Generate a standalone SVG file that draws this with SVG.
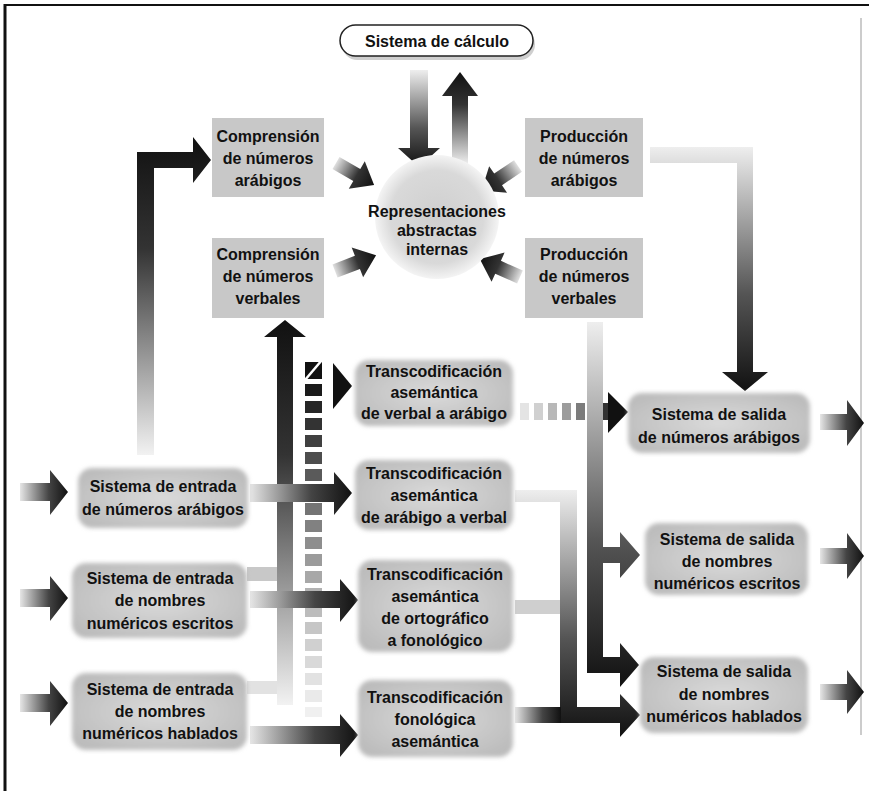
<svg xmlns="http://www.w3.org/2000/svg" width="869" height="791" viewBox="0 0 869 791">
<defs>
<style>
text{font-family:"Liberation Sans",Arial,sans-serif;font-weight:bold;font-size:16px;fill:#111;text-anchor:middle;dominant-baseline:central}
.rb{fill:url(#boxG);filter:url(#soft)}
.sq{fill:#c6c6c6}
</style>
<filter id="soft" x="-10%" y="-20%" width="120%" height="140%"><feGaussianBlur stdDeviation="2.2"/></filter>
<radialGradient id="boxG" cx="0.5" cy="0.5" r="0.6"><stop offset="0" stop-color="#dadada"/><stop offset="1" stop-color="#bcbcbc"/></radialGradient>
<radialGradient id="circG" cx="0.5" cy="0.5" r="0.5"><stop offset="0" stop-color="#cfcfcf"/><stop offset="0.75" stop-color="#d9d9d9"/><stop offset="1" stop-color="#f4f4f4"/></radialGradient>
<linearGradient id="gH" x1="0" y1="0" x2="1" y2="0"><stop offset="0" stop-color="#e6e6e6"/><stop offset="0.6" stop-color="#444"/><stop offset="1" stop-color="#111"/></linearGradient>
<linearGradient id="gUp" x1="0" y1="0" x2="0" y2="1"><stop offset="0" stop-color="#111"/><stop offset="0.35" stop-color="#333"/><stop offset="1" stop-color="#f2f2f2"/></linearGradient>
<linearGradient id="gDown" x1="0" y1="0" x2="0" y2="1"><stop offset="0" stop-color="#eeeeee"/><stop offset="0.6" stop-color="#555"/><stop offset="1" stop-color="#111"/></linearGradient>
<linearGradient id="gSmall" x1="0" y1="0" x2="1" y2="0"><stop offset="0" stop-color="#e0e0e0"/><stop offset="0.55" stop-color="#333"/><stop offset="1" stop-color="#111"/></linearGradient>
<path id="sm" d="M0,-7 H24 V-16 L44,0 L24,16 V7 H0 Z"/>
</defs>
<rect width="869" height="791" fill="#fff"/>
<g id="frame">
<line x1="4" y1="5" x2="869" y2="5" stroke="#111" stroke-width="2"/>
<line x1="5" y1="4" x2="5" y2="791" stroke="#111" stroke-width="3"/>
<line x1="861" y1="18" x2="861" y2="735" stroke="#999" stroke-width="1"/>
</g>
<g id="connectors">
<path d="M410,70 H428 V148 H440 L419,167 L398,148 H410 Z" fill="url(#gDown)"/>
<path d="M452,165 V96 H442 L460,72 L478,96 H468 V165 Z" fill="url(#gUp)"/>
<path d="M137,455 V152 H193 V137 L211,160 L193,183 V168 H154 V455 Z" fill="url(#gUp)"/>
<path d="M277,705 V337 H264 L285,320 L306,337 H293 V705 Z" fill="url(#gUp)"/>
<rect x="247" y="567" width="30" height="14" fill="#c8c8c8"/>
<rect x="247" y="681" width="30" height="13" fill="#e2e2e2"/>
<g id="dashcol">
<path d="M305,362 H322 V379 H305 Z" fill="#111"/>
<line x1="322" y1="360" x2="305" y2="380" stroke="#fff" stroke-width="2.5"/>
<rect x="305" y="384" width="17" height="12" fill="#1a1a1a"/>
<rect x="305" y="401" width="17" height="12" fill="#262626"/>
<rect x="305" y="418" width="17" height="12" fill="#333"/>
<rect x="305" y="435" width="17" height="12" fill="#404040"/>
<rect x="305" y="452" width="17" height="12" fill="#4d4d4d"/>
<rect x="305" y="469" width="17" height="12" fill="#5a5a5a"/>
<rect x="305" y="486" width="17" height="12" fill="#676767"/>
<rect x="305" y="503" width="17" height="12" fill="#747474"/>
<rect x="305" y="520" width="17" height="12" fill="#818181"/>
<rect x="305" y="537" width="17" height="12" fill="#8e8e8e"/>
<rect x="305" y="554" width="17" height="12" fill="#9b9b9b"/>
<rect x="305" y="571" width="17" height="12" fill="#a8a8a8"/>
<rect x="305" y="588" width="17" height="12" fill="#b2b2b2"/>
<rect x="305" y="605" width="17" height="12" fill="#bcbcbc"/>
<rect x="305" y="622" width="17" height="12" fill="#c6c6c6"/>
<rect x="305" y="639" width="17" height="12" fill="#d0d0d0"/>
<rect x="305" y="656" width="17" height="12" fill="#d9d9d9"/>
<rect x="305" y="673" width="17" height="12" fill="#e2e2e2"/>
<rect x="305" y="690" width="17" height="12" fill="#eaeaea"/>
<rect x="305" y="707" width="17" height="10" fill="#f0f0f0"/>
<path d="M333,363 L352,386 L333,409 Z" fill="#111"/>
</g>
<path d="M250,484 H334 V472 L352,493 L334,515 V502 H250 Z" fill="url(#gH)"/>
<path d="M250,591 H340 V579 L358,600 L340,622 V608 H250 Z" fill="url(#gH)"/>
<path d="M250,726 H340 V714 L358,735 L340,757 V744 H250 Z" fill="url(#gH)"/>
<path d="M20,483 H50 V470 L68,492 L50,515 V501 H20 Z" fill="url(#gH)"/>
<path d="M20,589 H50 V576 L68,598 L50,621 V607 H20 Z" fill="url(#gH)"/>
<path d="M20,694 H50 V681 L68,703 L50,726 V712 H20 Z" fill="url(#gH)"/>
<g id="dashrow">
<rect x="520" y="403" width="9" height="17" fill="#e4e4e4"/>
<rect x="534" y="403" width="9" height="17" fill="#d0d0d0"/>
<rect x="548" y="403" width="9" height="17" fill="#b8b8b8"/>
<rect x="562" y="403" width="9" height="17" fill="#9c9c9c"/>
<rect x="576" y="403" width="9" height="17" fill="#7c7c7c"/>
<rect x="590" y="403" width="9" height="17" fill="#5a5a5a"/>
<rect x="603" y="403" width="7" height="17" fill="#333"/>
<path d="M608,392 L628,412 L608,433 Z" fill="#111"/>
</g>
<path d="M650,147 H753 V372 H768 L745,391 L722,372 H737 V163 H650 Z" fill="url(#gDown)"/>
<path d="M587,322 H603 V547 H620 V532 L640,555 L620,578 V563 H603 V657 H620 V643 L639,665 L620,687 V673 H587 Z" fill="url(#gDown)"/>
<path d="M515,490 H577 V707 H620 V694 L640,715 L620,737 V723 H560 V502 H515 Z" fill="url(#gDown)"/>
<rect x="515" y="707" width="46" height="16" fill="url(#gH)"/>
<rect x="515" y="600" width="45" height="14" fill="#cfcfcf"/>
<path d="M820,414 H847 V400 L864,423 L847,446 V430 H820 Z" fill="url(#gH)"/>
<path d="M820,548 H847 V533 L864,556 L847,579 V564 H820 Z" fill="url(#gH)"/>
<path d="M820,684 H847 V670 L864,692 L847,714 V700 H820 Z" fill="url(#gH)"/>
<use href="#sm" fill="url(#gSmall)" transform="translate(336,163) rotate(30)"/>
<use href="#sm" fill="url(#gSmall)" transform="translate(335,271) rotate(-21)"/>
<use href="#sm" fill="url(#gSmall)" transform="translate(518,166) rotate(146)"/>
<use href="#sm" fill="url(#gSmall)" transform="translate(520,277) rotate(-156)"/>
</g>
<g id="calculo">
<rect x="342" y="29" width="193" height="31" rx="15.5" fill="#cfcfcf"/>
<rect x="340" y="25" width="193" height="31" rx="15.5" fill="#fff" stroke="#222" stroke-width="1.5"/>
<text x="437" y="41">Sistema de cálculo</text>
</g>
<g id="representaciones">
<circle cx="437" cy="217" r="62" fill="url(#circG)"/>
<text x="437" y="211">Representaciones</text>
<text x="437" y="230">abstractas</text>
<text x="437" y="249">internas</text>
</g>
<g id="comp-arabigos">
<rect x="212" y="118" width="112" height="79" fill="#c8c8c8"/>
<text x="268" y="136">Comprensión</text>
<text x="268" y="158">de números</text>
<text x="268" y="180">arábigos</text>
</g>
<g id="comp-verbales">
<rect x="212" y="238" width="112" height="80" fill="#c8c8c8"/>
<text x="268" y="254">Comprensión</text>
<text x="268" y="276">de números</text>
<text x="268" y="298">verbales</text>
</g>
<g id="prod-arabigos">
<rect x="525" y="118" width="118" height="79" fill="#c8c8c8"/>
<text x="584" y="136">Producción</text>
<text x="584" y="158">de números</text>
<text x="584" y="180">arábigos</text>
</g>
<g id="prod-verbales">
<rect x="525" y="238" width="118" height="80" fill="#c8c8c8"/>
<text x="584" y="254">Producción</text>
<text x="584" y="276">de números</text>
<text x="584" y="298">verbales</text>
</g>
<g id="ent-arabigos">
<rect class="rb" x="78" y="468" width="170" height="60" rx="14"/>
<text x="163" y="486">Sistema de entrada</text>
<text x="163" y="509">de números arábigos</text>
</g>
<g id="ent-escritos">
<rect class="rb" x="72" y="563" width="175" height="75" rx="14"/>
<text x="160" y="578">Sistema de entrada</text>
<text x="160" y="600">de nombres</text>
<text x="160" y="623">numéricos escritos</text>
</g>
<g id="ent-hablados">
<rect class="rb" x="72" y="673" width="175" height="77" rx="14"/>
<text x="160" y="689">Sistema de entrada</text>
<text x="160" y="711">de nombres</text>
<text x="160" y="733">numéricos hablados</text>
</g>
<g id="trans-verbal-arabigo">
<rect class="rb" x="355" y="360" width="158" height="66" rx="14"/>
<text x="434" y="371">Transcodificación</text>
<text x="434" y="392">asemántica</text>
<text x="434" y="413">de verbal a arábigo</text>
</g>
<g id="trans-arabigo-verbal">
<rect class="rb" x="355" y="460" width="158" height="70" rx="14"/>
<text x="434" y="473">Transcodificación</text>
<text x="434" y="495">asemántica</text>
<text x="434" y="517">de arábigo a verbal</text>
</g>
<g id="trans-ortografico">
<rect class="rb" x="358" y="560" width="155" height="92" rx="14"/>
<text x="435" y="574">Transcodificación</text>
<text x="435" y="596">asemántica</text>
<text x="435" y="618">de ortográfico</text>
<text x="435" y="640">a fonológico</text>
</g>
<g id="trans-fonologica">
<rect class="rb" x="358" y="680" width="155" height="77" rx="14"/>
<text x="435" y="697">Transcodificación</text>
<text x="435" y="719">fonológica</text>
<text x="435" y="741">asemántica</text>
</g>
<g id="sal-arabigos">
<rect class="rb" x="628" y="393" width="182" height="60" rx="14"/>
<text x="719" y="414">Sistema de salida</text>
<text x="719" y="437">de números arábigos</text>
</g>
<g id="sal-escritos">
<rect class="rb" x="645" y="523" width="163" height="72" rx="14"/>
<text x="727" y="539">Sistema de salida</text>
<text x="727" y="561">de nombres</text>
<text x="727" y="583">numéricos escritos</text>
</g>
<g id="sal-hablados">
<rect class="rb" x="640" y="657" width="168" height="76" rx="14"/>
<text x="724" y="671">Sistema de salida</text>
<text x="724" y="694">de nombres</text>
<text x="724" y="716">numéricos hablados</text>
</g>
</svg>
